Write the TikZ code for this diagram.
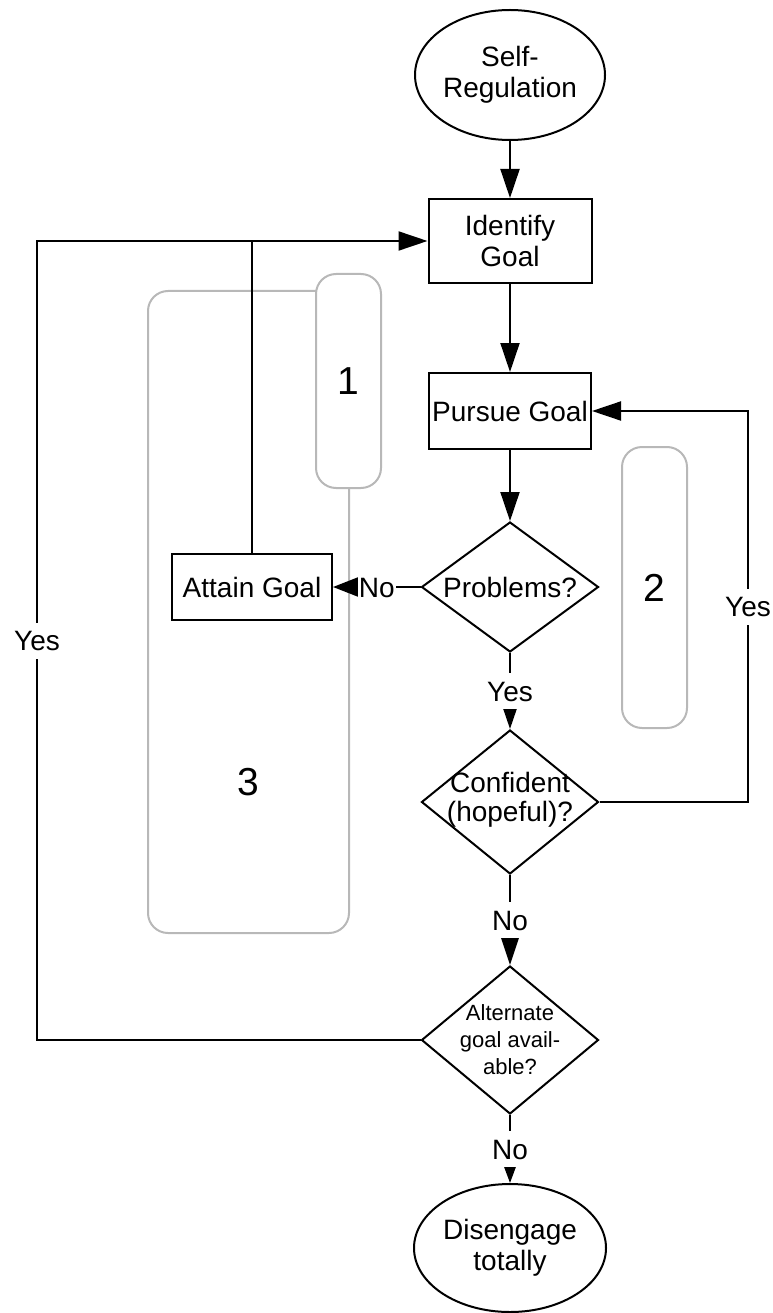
\documentclass[tikz,border=0pt]{standalone}
\usepackage{fontspec}
\setmainfont{Liberation Sans}
\usetikzlibrary{shapes.geometric,arrows.meta}
\definecolor{framegray}{RGB}{184,184,184}
\tikzset{
  shapebase/.style={draw=black, line width=2pt, fill=white, inner sep=0pt,
    align=center, font=\fontsize{28}{31}\selectfont},
  proc/.style={shapebase, rectangle},
  term/.style={shapebase, ellipse},
  decide/.style={shapebase, diamond},
  dtext/.style={inner sep=0pt, align=center, font=\fontsize{28}{29}\selectfont},
  zone/.style={draw=framegray, line width=2pt, rounded corners=20pt, rectangle,
    inner sep=0pt, font=\fontsize{39}{44}\selectfont},
  flow/.style={line width=2pt},
  lbl/.style={fill=white, inner xsep=1pt, inner ysep=8pt, text height=20pt,
    text depth=0pt, font=\fontsize{28}{31}\selectfont},
  tipBig/.style={-{Triangle[length=29pt,width=19pt]}},
  tipNo/.style={-{Triangle[length=25pt,width=19pt]}},
  tipYes/.style={-{Triangle[length=20pt,width=13pt]}},
  tipMid/.style={-{Triangle[length=28pt,width=18pt]}},
  tipSmall/.style={-{Triangle[length=17pt,width=12pt]}},
}
\begin{document}
\begin{tikzpicture}[x=1pt,y=-1pt]
\useasboundingbox (0,0) rectangle (772,1313);

% grey grouping frames
\node[zone, minimum width=201pt, minimum height=642pt] (g3) at (248.5,612) {};
\node[zone, fill=white, minimum width=65pt, minimum height=214pt] (g1) at (348.5,381) {1};
\node[zone, minimum width=65pt, minimum height=281pt] (g2) at (654.5,587.5) {2};
\node[font=\fontsize{39}{44}\selectfont, inner sep=0pt] (n3) at (248,782) {3};

% flow chart nodes
\node[term, minimum width=190pt, minimum height=130pt] (self) at (510,75) {Self-\\Regulation};
\node[proc, minimum width=163pt, minimum height=84pt] (ident) at (510,241) {Identify\\Goal};
\node[proc, minimum width=162pt, minimum height=76pt] (pursue) at (510,411) {Pursue Goal};
\node[decide, minimum width=177pt, minimum height=130pt] (prob) at (510,587) {};
\node[dtext] (probt) at (510,587) {Problems?};
\node[proc, minimum width=160pt, minimum height=66pt] (attain) at (252,587) {Attain Goal};
\node[decide, minimum width=177pt, minimum height=144pt] (conf) at (510,802) {};
\node[dtext] (conft) at (510,800) {Confident\\(hopeful)?};
\node[decide, minimum width=177pt, minimum height=148pt] (alt) at (510,1040) {};
\node[dtext, font=\fontsize{22}{27}\selectfont] (altt) at (510,1040) {Alternate\\goal avail-\\able?};
\node[term, minimum width=192pt, minimum height=128pt] (dis) at (510,1248) {Disengage\\totally};

% loop corners
\coordinate (rloop) at (748,411);
\coordinate (lloop) at (37,241);

% connectors
\draw[flow, tipBig] (self) -- (ident);
\draw[flow, tipBig] (ident) -- (pursue);
\draw[flow, tipBig] (pursue) -- (prob);
\draw[flow, tipNo] (prob.west) -- node[lbl] (lno1) {No} (attain.east);
\draw[flow, tipYes] (prob.south) -- node[lbl] (lyes1) {Yes} (conf.north);
\draw[flow, tipBig] (conf.east) -| node[lbl, pos=0.75] (lyes2) {Yes} (rloop) -- (pursue.east);
\draw[flow, tipMid] (conf.south) -- node[lbl] (lno2) {No} (alt.north);
\draw[flow, tipSmall] (alt.south) -- node[lbl] (lno3) {No} (dis.north);
\draw[flow, tipBig] (alt.west) -| node[lbl, pos=0.75] (lyes3) {Yes} (lloop) -- (ident.west);
\draw[flow] (attain.north) -- (attain.north |- lloop);
\end{tikzpicture}
\end{document}
